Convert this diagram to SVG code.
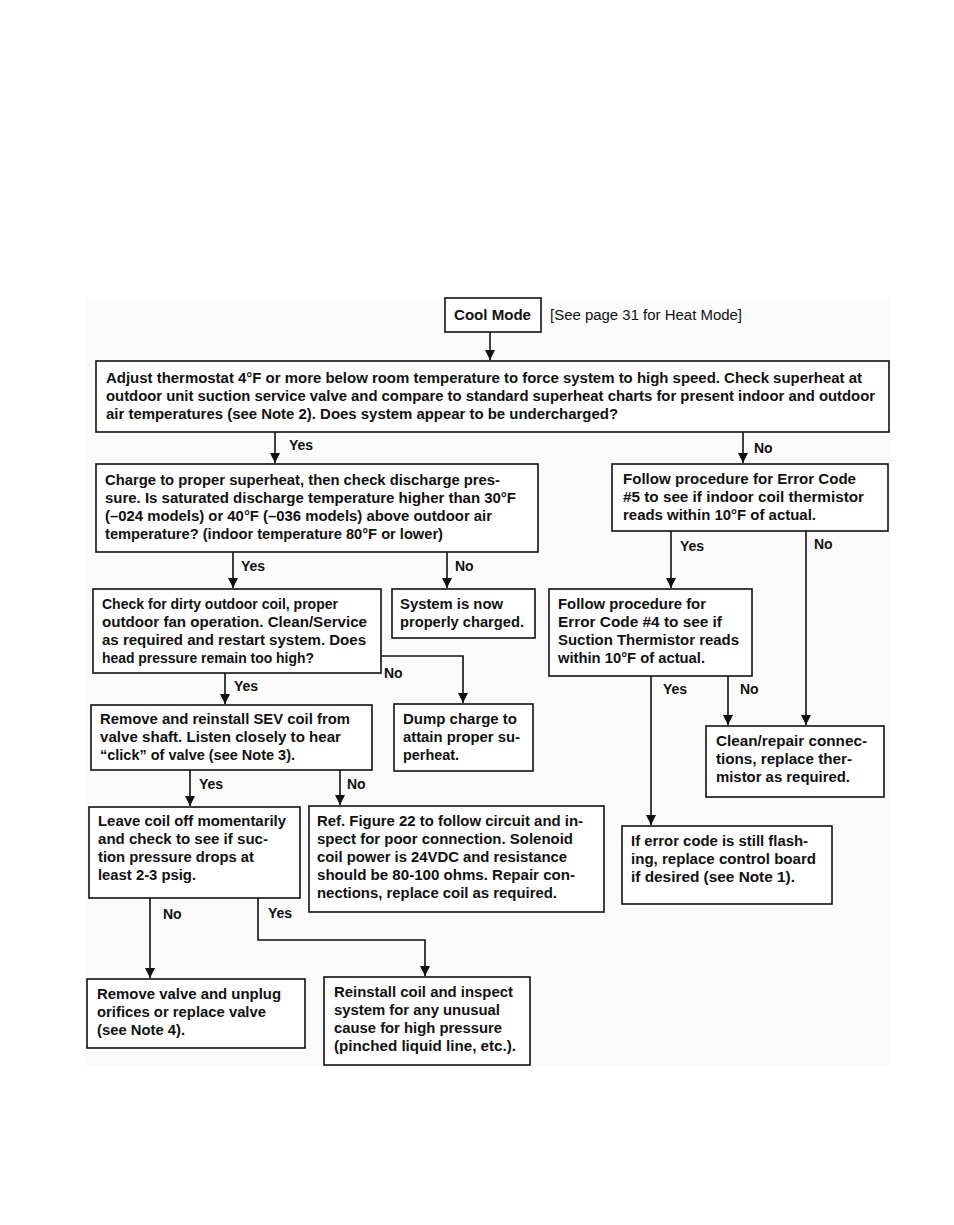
<svg xmlns="http://www.w3.org/2000/svg" width="954" height="1225" viewBox="0 0 954 1225">
<style>
text{font-family:"Liberation Sans",Arial,sans-serif;font-size:14px;font-weight:bold;fill:#111}
.r{font-weight:normal}
.box{fill:#fff;stroke:#111;stroke-width:1.6}
.ln{fill:none;stroke:#111;stroke-width:1.6}
</style>
<defs>
<marker id="ah" viewBox="0 0 10 12" refX="10" refY="6" markerWidth="10" markerHeight="12" markerUnits="userSpaceOnUse" orient="auto">
<path d="M0,1 L10,6 L0,11 Z" fill="#111"/>
</marker>
</defs>
<rect width="954" height="1225" fill="#fff"/>
<rect x="85" y="297" width="804" height="769" fill="#fbfbfb"/>

<g id="connectors">
<path class="ln" d="M490,332 V360" marker-end="url(#ah)"/>
<path class="ln" d="M275,432 V463" marker-end="url(#ah)"/>
<path class="ln" d="M743,432 V463" marker-end="url(#ah)"/>
<path class="ln" d="M233,552 V588" marker-end="url(#ah)"/>
<path class="ln" d="M447,552 V588" marker-end="url(#ah)"/>
<path class="ln" d="M671,531 V588" marker-end="url(#ah)"/>
<path class="ln" d="M806,531 V725" marker-end="url(#ah)"/>
<path class="ln" d="M381,656 H463 V703" marker-end="url(#ah)"/>
<path class="ln" d="M225,673 V704" marker-end="url(#ah)"/>
<path class="ln" d="M651,676 V825" marker-end="url(#ah)"/>
<path class="ln" d="M728,676 V725" marker-end="url(#ah)"/>
<path class="ln" d="M190,770 V806" marker-end="url(#ah)"/>
<path class="ln" d="M340,770 V805" marker-end="url(#ah)"/>
<path class="ln" d="M150,898 V978" marker-end="url(#ah)"/>
<path class="ln" d="M258,898 V940 H425 V976" marker-end="url(#ah)"/>
<text x="289" y="450">Yes</text>
<text x="754" y="453">No</text>
<text x="241" y="571">Yes</text>
<text x="455" y="571">No</text>
<text x="680" y="551">Yes</text>
<text x="814" y="549">No</text>
<text x="384" y="678">No</text>
<text x="234" y="691">Yes</text>
<text x="663" y="694">Yes</text>
<text x="740" y="694">No</text>
<text x="199" y="789">Yes</text>
<text x="347" y="789">No</text>
<text x="163" y="919">No</text>
<text x="268" y="918">Yes</text>
</g>

<g id="n-cool">
<rect class="box" x="445" y="298" width="96" height="34"/>
<text x="454" y="320" textLength="77" lengthAdjust="spacingAndGlyphs">Cool Mode</text>
<text class="r" x="550" y="320" textLength="192" lengthAdjust="spacingAndGlyphs">[See page 31 for Heat Mode]</text>
</g>

<g id="n-adjust">
<rect class="box" x="96" y="361" width="793" height="71"/>
<text x="106" y="383" textLength="756" lengthAdjust="spacingAndGlyphs">Adjust thermostat 4°F or more below room temperature to force system to high speed.  Check superheat at</text>
<text x="106" y="401" textLength="769" lengthAdjust="spacingAndGlyphs">outdoor unit suction service valve and compare to standard superheat charts for present indoor and outdoor</text>
<text x="106" y="419" textLength="512" lengthAdjust="spacingAndGlyphs">air temperatures (see Note 2).  Does system appear to be undercharged?</text>
</g>

<g id="n-charge">
<rect class="box" x="96" y="464" width="442" height="88"/>
<text x="105" y="485" textLength="395" lengthAdjust="spacingAndGlyphs">Charge to proper superheat, then check discharge pres-</text>
<text x="105" y="503" textLength="411" lengthAdjust="spacingAndGlyphs">sure.  Is saturated discharge temperature higher than 30°F</text>
<text x="105" y="521" textLength="387" lengthAdjust="spacingAndGlyphs">(–024 models) or 40°F (–036 models) above outdoor air</text>
<text x="105" y="539" textLength="338" lengthAdjust="spacingAndGlyphs">temperature? (indoor temperature 80°F or lower)</text>
</g>

<g id="n-error5">
<rect class="box" x="612" y="464" width="276" height="67"/>
<text x="623" y="484" textLength="233" lengthAdjust="spacingAndGlyphs">Follow procedure for Error Code</text>
<text x="623" y="502" textLength="241" lengthAdjust="spacingAndGlyphs">#5 to see if indoor coil thermistor</text>
<text x="623" y="520" textLength="193" lengthAdjust="spacingAndGlyphs">reads within 10°F of actual.</text>
</g>

<g id="n-dirty">
<rect class="box" x="93" y="589" width="288" height="84"/>
<text x="102" y="609" textLength="236" lengthAdjust="spacingAndGlyphs">Check for dirty outdoor coil, proper</text>
<text x="102" y="627" textLength="265" lengthAdjust="spacingAndGlyphs">outdoor fan operation.  Clean/Service</text>
<text x="102" y="645" textLength="264" lengthAdjust="spacingAndGlyphs">as required and restart system.  Does</text>
<text x="102" y="663" textLength="212" lengthAdjust="spacingAndGlyphs">head pressure remain too high?</text>
</g>

<g id="n-charged">
<rect class="box" x="392" y="589" width="143" height="49"/>
<text x="400" y="609" textLength="103" lengthAdjust="spacingAndGlyphs">System is now</text>
<text x="400" y="627" textLength="124" lengthAdjust="spacingAndGlyphs">properly charged.</text>
</g>

<g id="n-error4">
<rect class="box" x="549" y="589" width="203" height="87"/>
<text x="558" y="609" textLength="148" lengthAdjust="spacingAndGlyphs">Follow procedure for</text>
<text x="558" y="627" textLength="164" lengthAdjust="spacingAndGlyphs">Error Code #4 to see if</text>
<text x="558" y="645" textLength="181" lengthAdjust="spacingAndGlyphs">Suction Thermistor reads</text>
<text x="558" y="663" textLength="147" lengthAdjust="spacingAndGlyphs">within 10°F of actual.</text>
</g>

<g id="n-sev">
<rect class="box" x="91" y="705" width="281" height="65"/>
<text x="100" y="724" textLength="250" lengthAdjust="spacingAndGlyphs">Remove and reinstall SEV coil from</text>
<text x="100" y="742" textLength="241" lengthAdjust="spacingAndGlyphs">valve shaft.  Listen closely to hear</text>
<text x="100" y="760" textLength="195" lengthAdjust="spacingAndGlyphs">“click” of valve (see Note 3).</text>
</g>

<g id="n-dump">
<rect class="box" x="394" y="704" width="139" height="67"/>
<text x="403" y="724" textLength="114" lengthAdjust="spacingAndGlyphs">Dump charge to</text>
<text x="403" y="742" textLength="117" lengthAdjust="spacingAndGlyphs">attain proper su-</text>
<text x="403" y="760" textLength="56" lengthAdjust="spacingAndGlyphs">perheat.</text>
</g>

<g id="n-clean">
<rect class="box" x="706" y="726" width="178" height="71"/>
<text x="716" y="746" textLength="151" lengthAdjust="spacingAndGlyphs">Clean/repair connec-</text>
<text x="716" y="764" textLength="136" lengthAdjust="spacingAndGlyphs">tions, replace ther-</text>
<text x="716" y="782" textLength="134" lengthAdjust="spacingAndGlyphs">mistor as required.</text>
</g>

<g id="n-leave">
<rect class="box" x="89" y="807" width="211" height="91"/>
<text x="98" y="826" textLength="188" lengthAdjust="spacingAndGlyphs">Leave coil off momentarily</text>
<text x="98" y="844" textLength="170" lengthAdjust="spacingAndGlyphs">and check to see if suc-</text>
<text x="98" y="862" textLength="156" lengthAdjust="spacingAndGlyphs">tion pressure drops at</text>
<text x="98" y="880" textLength="98" lengthAdjust="spacingAndGlyphs">least 2-3 psig.</text>
</g>

<g id="n-ref22">
<rect class="box" x="309" y="806" width="295" height="106"/>
<text x="317" y="826" textLength="266" lengthAdjust="spacingAndGlyphs">Ref. Figure 22 to follow circuit and in-</text>
<text x="317" y="844" textLength="256" lengthAdjust="spacingAndGlyphs">spect for poor connection.  Solenoid</text>
<text x="317" y="862" textLength="250" lengthAdjust="spacingAndGlyphs">coil power is 24VDC and resistance</text>
<text x="317" y="880" textLength="258" lengthAdjust="spacingAndGlyphs">should be 80-100 ohms.  Repair con-</text>
<text x="317" y="898" textLength="240" lengthAdjust="spacingAndGlyphs">nections, replace coil as required.</text>
</g>

<g id="n-iferror">
<rect class="box" x="622" y="826" width="210" height="78"/>
<text x="631" y="846" textLength="177" lengthAdjust="spacingAndGlyphs">If error code is still flash-</text>
<text x="631" y="864" textLength="185" lengthAdjust="spacingAndGlyphs">ing, replace control board</text>
<text x="631" y="882" textLength="164" lengthAdjust="spacingAndGlyphs">if desired (see Note 1).</text>
</g>

<g id="n-removevalve">
<rect class="box" x="87" y="979" width="218" height="69"/>
<text x="97" y="999" textLength="184" lengthAdjust="spacingAndGlyphs">Remove valve and unplug</text>
<text x="97" y="1017" textLength="169" lengthAdjust="spacingAndGlyphs">orifices or replace valve</text>
<text x="97" y="1035" textLength="88" lengthAdjust="spacingAndGlyphs">(see Note 4).</text>
</g>

<g id="n-reinstall">
<rect class="box" x="324" y="977" width="206" height="88"/>
<text x="334" y="997" textLength="179" lengthAdjust="spacingAndGlyphs">Reinstall coil and inspect</text>
<text x="334" y="1015" textLength="166" lengthAdjust="spacingAndGlyphs">system for any unusual</text>
<text x="334" y="1033" textLength="168" lengthAdjust="spacingAndGlyphs">cause for high pressure</text>
<text x="334" y="1051" textLength="182" lengthAdjust="spacingAndGlyphs">(pinched liquid line, etc.).</text>
</g>
</svg>
